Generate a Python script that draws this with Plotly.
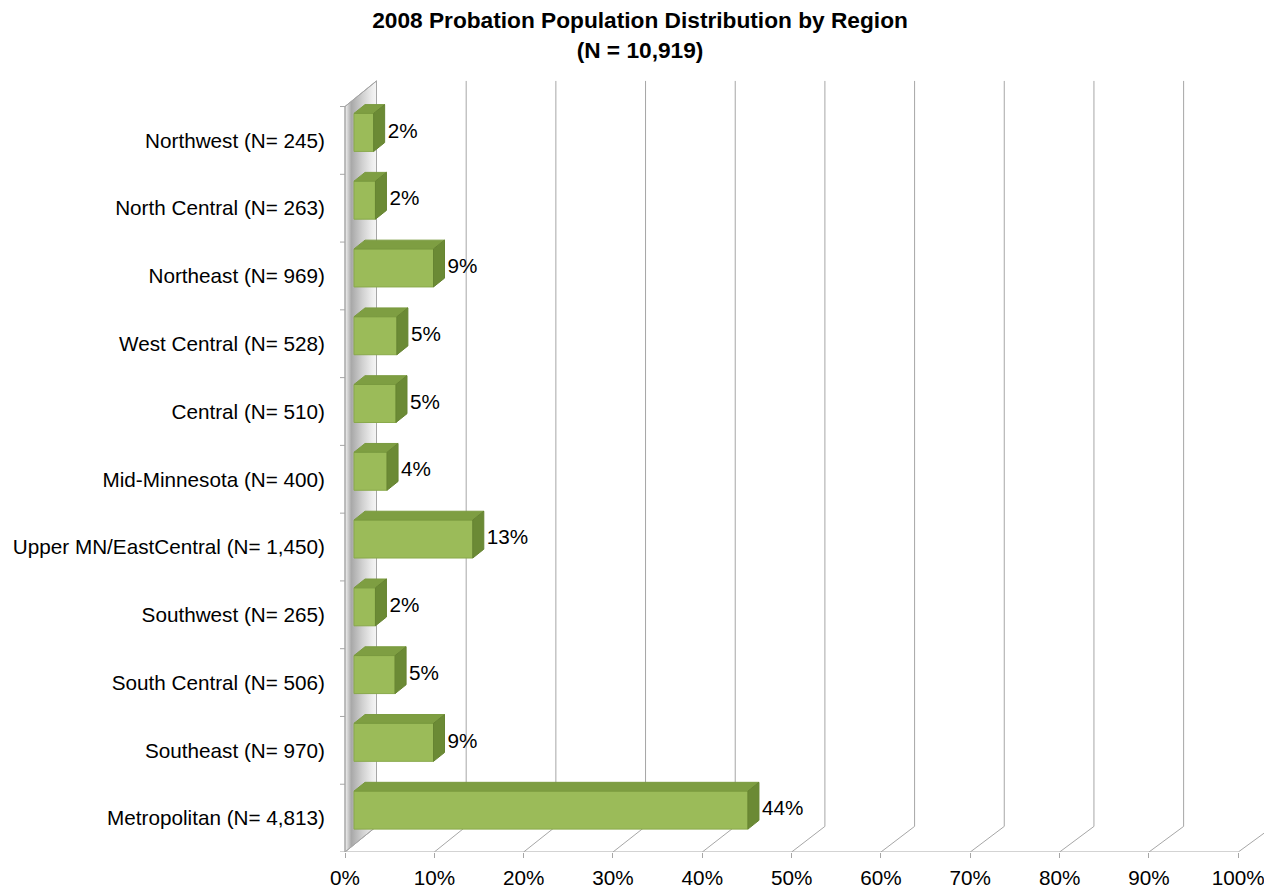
import plotly.graph_objects as go

# ---------------- data ----------------
regions = [
    "Northwest (N= 245)",
    "North Central (N= 263)",
    "Northeast (N= 969)",
    "West Central (N= 528)",
    "Central (N= 510)",
    "Mid-Minnesota (N= 400)",
    "Upper MN/EastCentral (N= 1,450)",
    "Southwest (N= 265)",
    "South Central (N= 506)",
    "Southeast (N= 970)",
    "Metropolitan (N= 4,813)",
]
share_pct = [2.2, 2.4, 8.9, 4.8, 4.7, 3.7, 13.3, 2.4, 4.6, 8.9, 44.1]
share_text = ["2%", "2%", "9%", "5%", "5%", "4%", "13%", "2%", "5%", "9%", "44%"]
x_tick_vals = [0, 10, 20, 30, 40, 50, 60, 70, 80, 90, 100]
x_tick_text = ["0%", "10%", "20%", "30%", "40%", "50%", "60%", "70%", "80%", "90%", "100%"]
title_text = "<b>2008 Probation Population Distribution by Region</b><br><b>(N = 10,919)</b>"

# ---------------- styling / geometry helpers ----------------
FONT = "Liberation Sans, Arial, sans-serif"
TXT = 20.7
PAGE_OFFSET = 8                      # default body margin of the html page
W, H = 1272 - PAGE_OFFSET, 888 - PAGE_OFFSET
M_L, M_R, M_T, M_B = 335 - PAGE_OFFSET, 0, 0, 36
PX_PER_PCT = 8.933      # pixels per 1 % on the front axis
PX_PER_CAT = 67.77      # pixels per category slot


def ux(px):
    return px / PX_PER_PCT


def uy(px):
    return px / PX_PER_CAT


n = len(regions)
ypos = [n - 1 - i for i in range(n)]          # first region on top
X_MIN = -ux(10)
X_MAX = X_MIN + ux(W - M_L - M_R)
Y_MIN = -0.5
Y_MAX = Y_MIN + uy(H - M_T - M_B)

front_bottom = -0.5
front_top = n - 0.5
back_dy = uy(25.6)


def back_dx(p):
    return ux(31.5 + 0.035 * p)


GRID = "#a6a6a6"

# ---------------- walls / grid ----------------
wall_x = [0, 0, back_dx(0), back_dx(0), 0]
wall_y = [front_bottom, front_top, front_top + back_dy, front_bottom + back_dy, front_bottom]

lx, ly = [], []
for p in x_tick_vals:                       # back wall vertical gridlines
    bx = p + back_dx(p)
    lx += [bx, bx, None]
    ly += [front_bottom + back_dy, front_top + back_dy, None]
for p in x_tick_vals:                       # floor diagonals
    lx += [p, p + back_dx(p), None]
    ly += [front_bottom, front_bottom + back_dy, None]
lx += [0, x_tick_vals[-1], None, 0, 0, None, 0, back_dx(0), None]
ly += [front_bottom, front_bottom, None, front_bottom, front_top, None,
       front_top, front_top + back_dy, None]
for k in range(n + 1):                      # category boundary ticks
    lx += [-ux(5), 0, None]
    ly += [k - 0.5, k - 0.5, None]

# ---------------- bars ----------------
BAR_X0 = ux(9)
BAR_H = uy(38)
BAR_LIFT = uy(8)
DEPTH_DX = ux(11)
DEPTH_DY = uy(8.8)

yc = [y + BAR_LIFT for y in ypos]
top_x, top_y, side_x, side_y = [], [], [], []
for v, c in zip(share_pct, yc):
    x0, x1 = BAR_X0, BAR_X0 + v
    yt, yb = c + BAR_H / 2, c - BAR_H / 2
    top_x += [x0, x1, x1 + DEPTH_DX, x0 + DEPTH_DX, x0, None]
    top_y += [yt, yt, yt + DEPTH_DY, yt + DEPTH_DY, yt, None]
    side_x += [x1, x1, x1 + DEPTH_DX, x1 + DEPTH_DX, x1, None]
    side_y += [yb, yt, yt + DEPTH_DY, yb + DEPTH_DY, yb, None]

label_x = [BAR_X0 + v + DEPTH_DX + ux(3) for v in share_pct]

fig = go.Figure()
fig.add_trace(go.Scatter(
    x=wall_x, y=wall_y, mode="lines", fill="toself",
    line=dict(color=GRID, width=1),
    fillgradient=dict(type="horizontal", start=0, stop=back_dx(0),
                      colorscale=[[0, "#f4f4f4"], [0.2, "#a8a8a8"], [0.55, "#d0d0d0"],
                                  [0.85, "#ececec"], [1, "#f6f6f6"]]),
    hoverinfo="skip", zorder=-3, showlegend=False))
fig.add_trace(go.Scatter(
    x=lx, y=ly, mode="lines", line=dict(color=GRID, width=1),
    hoverinfo="skip", zorder=-2, showlegend=False))
fig.add_trace(go.Bar(
    y=yc, x=share_pct, base=BAR_X0, orientation="h", width=BAR_H,
    marker=dict(color="#9bbb59", line=dict(color="#89a94b", width=1)),
    hoverinfo="skip", zorder=0, showlegend=False))
fig.add_trace(go.Scatter(
    x=top_x, y=top_y, mode="lines", fill="toself", fillcolor="#7e9e42",
    line=dict(color="#7a9a3f", width=1), hoverinfo="skip", zorder=1, showlegend=False))
fig.add_trace(go.Scatter(
    x=side_x, y=side_y, mode="lines", fill="toself", fillcolor="#6b8a35",
    line=dict(color="#668431", width=1), hoverinfo="skip", zorder=1, showlegend=False))
fig.add_trace(go.Scatter(
    x=label_x, y=yc, mode="text", text=share_text, textposition="middle right",
    textfont=dict(family=FONT, size=TXT, color="#000000"), cliponaxis=False,
    hoverinfo="skip", zorder=2, showlegend=False))

fig.update_layout(
    template="none",
    width=W, height=H,
    margin=dict(l=M_L, r=M_R, t=M_T, b=M_B),
    paper_bgcolor="white", plot_bgcolor="white",
    showlegend=False,
    font=dict(family=FONT, size=TXT, color="#000000"),
    title=dict(text=title_text, x=0.5, xanchor="center", xref="container",
               y=1 - 20 / H, yanchor="top", yref="container",
               font=dict(family=FONT, size=22.7, color="#000000")),
    xaxis=dict(range=[X_MIN, X_MAX], tickvals=x_tick_vals, ticktext=x_tick_text,
               ticks="outside", ticklen=5, tickcolor=GRID, tickwidth=1,
               showgrid=False, zeroline=False, showline=False, automargin=False,
               ticklabelstandoff=2,
               tickfont=dict(family=FONT, size=TXT, color="#000000"), fixedrange=True),
    yaxis=dict(range=[Y_MIN, Y_MAX], tickvals=ypos, ticktext=regions, ticks="",
               showgrid=False, zeroline=False, showline=False, automargin=False,
               ticklabelstandoff=9,
               tickfont=dict(family=FONT, size=TXT, color="#000000"), fixedrange=True),
)

fig.write_html("out.html")
